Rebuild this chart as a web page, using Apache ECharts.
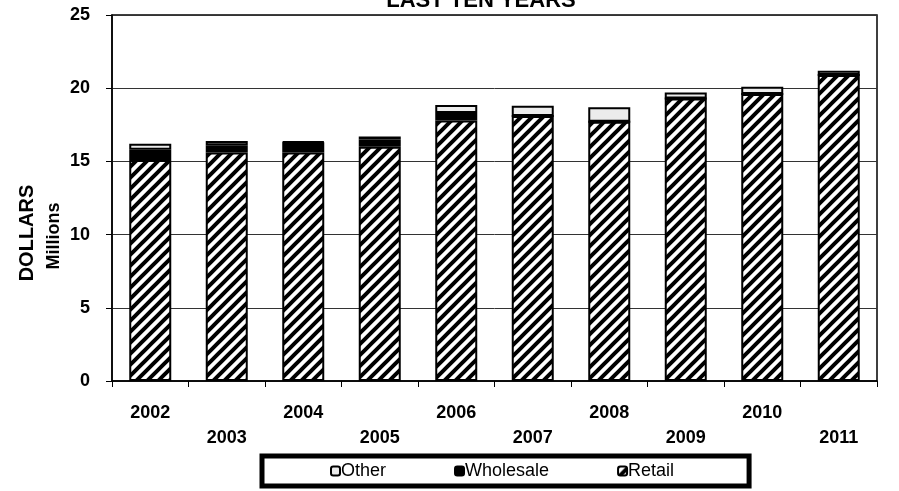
<!DOCTYPE html>
<html>
<head>
<meta charset="utf-8">
<script src="https://cdn.jsdelivr.net/npm/echarts@6/dist/echarts.min.js"></script>
<style>
  html, body { margin: 0; padding: 0; background: #fff; }
  #chart { width: 899px; height: 491px; }
</style>
</head>
<body>
<div id="chart"></div>
<script>
// data (millions of dollars)
const years = ['2002', '2003', '2004', '2005', '2006', '2007', '2008', '2009', '2010', '2011']
const retail = [15.1, 15.6, 15.6, 16.0, 17.8, 18.1, 17.7, 19.3, 19.6, 20.9]
const wholesale = [0.7, 0.5, 0.7, 0.5, 0.5, 0, 0, 0, 0, 0]
const other = [0.4, 0.3, 0.05, 0.2, 0.55, 0.7, 1.0, 0.4, 0.5, 0.3]
const yTicks = [0, 5, 10, 15, 20, 25]

// diagonal hatch for the retail bars
function hatch() {
  const c = document.createElement('canvas')
  c.width = 11
  c.height = 11
  const ctx = c.getContext('2d')
  ctx.fillStyle = '#fff'
  ctx.fillRect(0, 0, 11, 11)
  ctx.strokeStyle = '#000'
  ctx.lineWidth = 4
  ctx.beginPath()
  ctx.moveTo(-5.5, 5.5); ctx.lineTo(5.5, -5.5)
  ctx.moveTo(0, 11); ctx.lineTo(11, 0)
  ctx.moveTo(5.5, 16.5); ctx.lineTo(16.5, 5.5)
  ctx.stroke()
  return c
}

const chart = echarts.init(document.getElementById('chart'))
const font = 'Arial, "Liberation Sans", sans-serif'

chart.setOption({
  animation: false,
  title: {
    text: 'LAST TEN YEARS',
    left: 476,
    top: -15,
    textAlign: 'center',
    textStyle: { fontFamily: font, fontSize: 22, fontWeight: 'bold', color: '#000' }
  },
  graphic: [
    {
      type: 'text', x: 27, y: 233, rotation: Math.PI / 2,
      style: { text: 'DOLLARS', fontFamily: font, fontSize: 20, fontWeight: 'bold', fill: '#000', align: 'center', verticalAlign: 'middle' }
    },
    {
      type: 'text', x: 54, y: 236, rotation: Math.PI / 2,
      style: { text: 'Millions', fontFamily: font, fontSize: 18, fontWeight: 'bold', fill: '#000', align: 'center', verticalAlign: 'middle' }
    }
  ],
  grid: {
    left: 112, right: 22, top: 15, bottom: 110,
    show: true, borderColor: '#000', borderWidth: 1.5
  },
  legend: {
    data: ['Other', 'Wholesale', 'Retail'],
    left: 262,
    top: 456,
    padding: [6, 75, 6, 68],
    borderColor: '#000',
    borderWidth: 5,
    itemWidth: 9,
    itemHeight: 9,
    itemGap: 68,
    textStyle: { fontFamily: font, fontSize: 18, color: '#000', padding: [0, 0, 0, -4] }
  },
  xAxis: {
    type: 'category',
    data: years,
    axisLine: { lineStyle: { color: '#000', width: 1.5 } },
    axisTick: { show: true, length: 6, lineStyle: { color: '#000' } },
    axisLabel: {
      interval: 0,
      margin: 20,
      lineHeight: 25,
      fontFamily: font,
      fontSize: 18,
      fontWeight: 'bold',
      color: '#000',
      formatter: (v, i) => (i % 2 ? '\n' + v : v)
    }
  },
  yAxis: {
    type: 'value',
    min: yTicks[0],
    max: yTicks[yTicks.length - 1],
    interval: 5,
    axisLine: { show: true, lineStyle: { color: '#000', width: 1.5 } },
    axisTick: { show: true, length: 6, lineStyle: { color: '#000' } },
    axisLabel: { margin: 22, fontFamily: font, fontSize: 18, fontWeight: 'bold', color: '#000' },
    splitLine: { lineStyle: { color: '#333', width: 1 } }
  },
  series: [
    {
      name: 'Retail',
      type: 'bar',
      stack: 'total',
      barWidth: 42,
      data: retail,
      itemStyle: { color: { image: hatch(), repeat: 'repeat' }, borderColor: '#000', borderWidth: 2 }
    },
    {
      name: 'Wholesale',
      type: 'bar',
      stack: 'total',
      data: wholesale,
      itemStyle: { color: '#000', borderColor: '#000', borderWidth: 2 }
    },
    {
      name: 'Other',
      type: 'bar',
      stack: 'total',
      data: other,
      itemStyle: { color: '#ececec', borderColor: '#000', borderWidth: 2 }
    }
  ]
})
</script>
</body>
</html>
